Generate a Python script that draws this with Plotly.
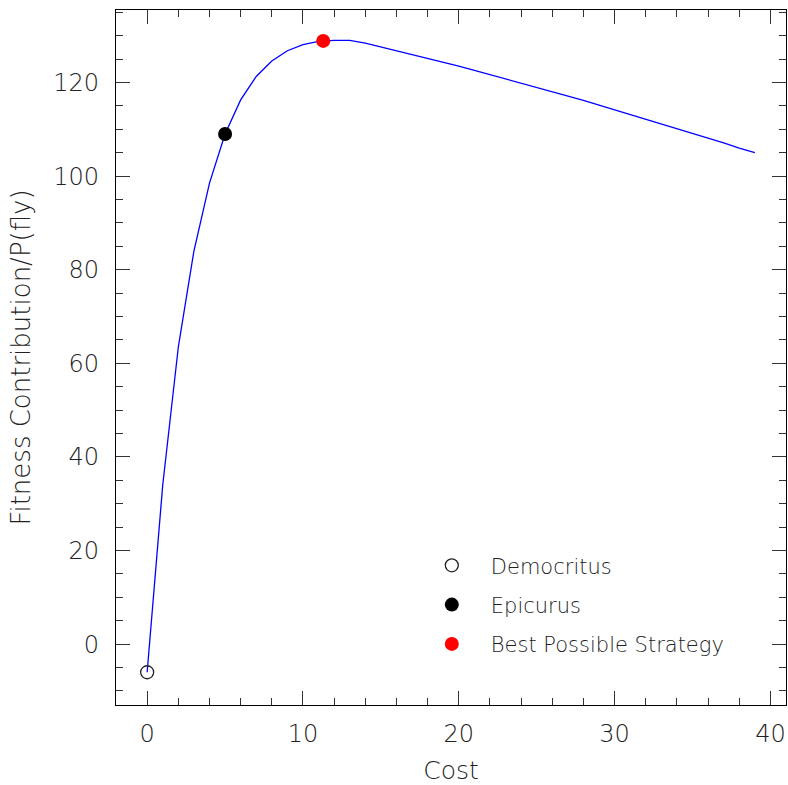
import plotly.graph_objects as go

cost = list(range(0, 40))
fitness = [-6, 34, 63.5, 84, 98.5, 109, 116.3, 121.3, 124.6, 126.8,
           128.1, 128.8, 129.0, 129.0, 128.4, 127.6, 126.8, 126.0, 125.2, 124.3,
           123.5, 122.6, 121.7, 120.8, 119.9, 119.0, 118.1, 117.2, 116.2, 115.2,
           114.2, 113.2, 112.2, 111.2, 110.2, 109.1, 108.1, 107.1, 106.0, 105.0]

democritus_x, democritus_y = [0], [-6]
epicurus_x, epicurus_y = [5], [109]
best_x, best_y = [11.3], [128.9]

FONT = "DejaVu Sans"
TXT = "#222222"

fig = go.Figure()
fig.add_trace(go.Scatter(x=cost, y=fitness, mode="lines",
                         line=dict(color="#0000ff", width=1.3), showlegend=False))
fig.add_trace(go.Scatter(x=democritus_x, y=democritus_y, mode="markers", name="Democritus",
                         legendgroup="a",
                         marker=dict(symbol="circle-open", size=13, color="#222222",
                                     line=dict(width=1.3, color="#222222"))))
fig.add_trace(go.Scatter(x=epicurus_x, y=epicurus_y, mode="markers", name="Epicurus",
                         legendgroup="b",
                         marker=dict(symbol="circle", size=14, color="black")))
fig.add_trace(go.Scatter(x=best_x, y=best_y, mode="markers", name="Best Possible Strategy",
                         legendgroup="c",
                         marker=dict(symbol="circle", size=14, color="#ff0000")))

axis_common = dict(
    showgrid=False, zeroline=False, showline=True, linecolor="black", linewidth=1.2,
    mirror="ticks", ticks="inside", ticklen=14, tickwidth=1.2, tickcolor="#333333",
    tickfont=dict(family=FONT, size=24, color=TXT, weight=200),
    automargin=False,
)

fig.update_xaxes(range=[-2, 41], tick0=0, dtick=10, ticklabelstandoff=7,
                 minor=dict(dtick=2, ticks="inside", ticklen=7, tickwidth=1.2, tickcolor="#333333"),
                 title=dict(text="Cost", font=dict(family=FONT, size=25, color=TXT, weight=200),
                            standoff=22),
                 **axis_common)
fig.update_yaxes(range=[-13, 135.5], tick0=0, dtick=20, ticklabelstandoff=11,
                 minor=dict(dtick=5, ticks="inside", ticklen=7, tickwidth=1.2, tickcolor="#333333"),
                 title=dict(text="Fitness Contribution/P(fly)",
                            font=dict(family=FONT, size=26, color=TXT, weight=200),
                            standoff=15),
                 **axis_common)

fig.update_layout(
    width=788, height=785,
    margin=dict(l=116, r=2, t=10, b=80),
    plot_bgcolor="white", paper_bgcolor="white",
    legend=dict(x=0.443, y=0.23, xanchor="left", yanchor="top",
                font=dict(family=FONT, size=21, color=TXT, weight=200),
                bgcolor="rgba(0,0,0,0)", itemwidth=68, tracegroupgap=9),
)

post = ("document.body.style.margin='0';document.body.style.padding='0';"
        "document.body.style.overflow='hidden';"
        "var gd=document.getElementById('{plot_id}');Plotly.relayout(gd,{width:788,height:785});")
fig.write_html("out.html", post_script=post,
               config={"responsive": False, "displayModeBar": False})
